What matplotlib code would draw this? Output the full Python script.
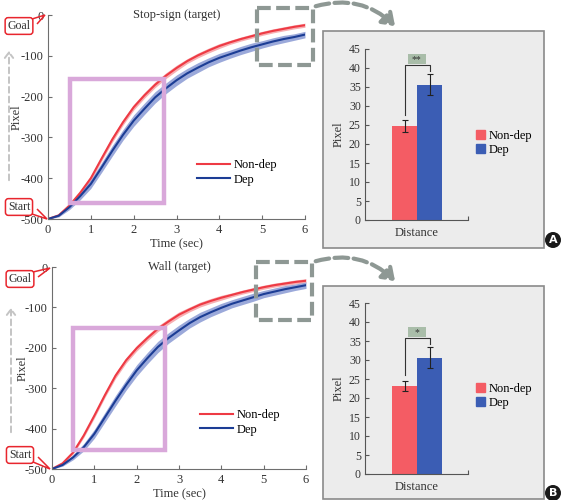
import numpy as np
import matplotlib
matplotlib.use('Agg')
import matplotlib.pyplot as plt
from matplotlib.patches import Rectangle, FancyArrowPatch, Circle, Patch, Polygon
from matplotlib.transforms import Affine2D

plt.rcParams['font.family'] = ['Liberation Serif', 'DejaVu Serif']
plt.rcParams['axes.unicode_minus'] = False

# Valores (cada 0.25 s)
time_sec = [0, 0.25, 0.5, 0.75, 1, 1.25, 1.5, 1.75, 2, 2.25, 2.5, 2.75, 3,
            3.25, 3.5, 3.75, 4, 4.25, 4.5, 4.75, 5, 5.25, 5.5, 5.75, 6]
stop_nondep = [-500, -491, -467, -436, -400, -352, -305, -263, -226, -197, -171, -149, -130,
               -113, -99, -87, -76, -67, -59, -52, -45, -39, -34, -29, -25]
stop_dep = [-500, -492, -471, -444, -414, -374, -333, -294, -259, -230, -202, -180, -160,
            -143, -129, -116, -105, -96, -87, -79, -72, -65, -59, -54, -48]
wall_nondep = [-500, -486, -459, -417, -368, -317, -269, -231, -201, -176, -153, -135, -118,
               -105, -93, -84, -76, -69, -62, -56, -50, -45, -41, -37, -34]
wall_dep = [-500, -490, -471, -446, -413, -372, -331, -292, -256, -226, -198, -176, -157,
            -139, -124, -112, -101, -91, -83, -75, -67, -61, -55, -50, -45]
sem_nondep = [0, 2, 4, 5, 6, 6, 7, 7, 7, 7, 7, 7, 7, 6, 6, 6, 6, 5, 5, 5, 5, 5, 5, 5, 5]
sem_dep = [0, 3, 6, 9, 11, 12, 13, 13, 14, 14, 14, 13, 13, 12, 12, 11, 11, 10, 10, 10, 9, 9, 9, 8, 8]

groups = ['Non-dep', 'Dep']
stop_distance = [24.7, 35.6]
stop_distance_err = [1.5, 2.7]
wall_distance = [23.2, 30.6]
wall_distance_err = [1.35, 2.7]

W, H = 568, 500
fig = plt.figure(figsize=(W / 100, H / 100), dpi=100)
# coordenadas en pixeles (origen arriba a la izquierda)
px = Affine2D().scale(1 / W, -1 / H).translate(0, 1) + fig.transFigure

RED, RED_BAND = '#ee3a44', '#f7a6aa'
BLUE, BLUE_BAND = '#1c3d95', '#8a9ad4'
BAR_RED, BAR_BLUE = '#f45c64', '#3b5db4'
GRAY_DASH = '#8e9894'
PINK = '#d9a8da'


def add_axes_px(x0, y0, x1, y1):
    return fig.add_axes([x0 / W, 1 - y1 / H, (x1 - x0) / W, (y1 - y0) / H])


def curve_panel(rect, title, nondep, dep, zoom_box, focus_box, legend_xy, ylabel_x):
    ax = add_axes_px(*rect)
    ax.patch.set_alpha(0)
    t = np.array(time_sec)
    nd, d = np.array(nondep), np.array(dep)
    snd, sd = np.array(sem_nondep), np.array(sem_dep)
    ax.fill_between(t, nd - snd, nd + snd, color=RED_BAND, lw=0, alpha=0.9)
    ax.plot(t, nd, color=RED, lw=1.5, label='Non-dep')
    ax.fill_between(t, d - sd, d + sd, color=BLUE_BAND, lw=0, alpha=0.85)
    ax.plot(t, d, color=BLUE, lw=1.5, label='Dep')
    ax.set_xlim(0, 6)
    ax.set_ylim(-500, 0)
    ax.set_xticks(range(7))
    ax.set_yticks([0, -100, -200, -300, -400, -500])
    for s in ['top', 'right']:
        ax.spines[s].set_visible(False)
    for s in ['left', 'bottom']:
        ax.spines[s].set_color('#6e6e6e')
    ax.tick_params(direction='in', length=3, colors='#6e6e6e', labelcolor='#333333', labelsize=9)
    ax.tick_params(axis='y', pad=3)
    ax.set_ylabel('Pixel', fontsize=9, color='#333333')
    ax.yaxis.set_label_coords(ylabel_x, 0.5)
    ax.set_xlabel('Time (sec)', fontsize=9, color='#333333')
    ax.xaxis.set_label_coords(0.5, -0.095)
    ax.text(3, 0, title, ha='center', va='center', fontsize=9, color='#333333')
    # cuadro rosa
    fx0, fy0, fx1, fy1 = focus_box
    ax.add_patch(Rectangle((fx0, fy0), fx1 - fx0, fy1 - fy0, fill=False, ec=PINK, lw=3.2, zorder=5))
    # cuadro punteado gris
    zx0, zy0, zx1, zy1 = zoom_box
    ax.add_patch(Rectangle((zx0, zy0), zx1 - zx0, zy1 - zy0, fill=False, ec=GRAY_DASH, lw=3,
                           ls=(0, (3.3, 1.3)), clip_on=False, zorder=6))
    ax.legend(loc='upper left', bbox_to_anchor=legend_xy, bbox_transform=px, frameon=False,
              fontsize=9, handlelength=2.6, handletextpad=0.3, labelspacing=0.2,
              borderpad=0, borderaxespad=0)
    return ax


def callout(text, center, tip, up):
    cx, cy = center
    fig.text(cx / W, 1 - cy / H, text, ha='center', va='center', fontsize=8.5, color='#333333',
             bbox=dict(boxstyle='round,pad=0.2,rounding_size=0.25', fc='white', ec='#e8262e', lw=1.1),
             zorder=10)
    sgn = -1 if up else 1
    tail = Polygon([(cx + 13, cy + sgn * 7), tip, (cx + 18, cy + sgn * 2)], closed=False,
                   transform=px, fill=False, ec='#e8262e', lw=1.1, zorder=11)
    fig.add_artist(tail)


def bar_panel(box_rect, ax_rect, values, errors, star, legend_xy, badge_xy, badge):
    bx0, by0, bx1, by1 = box_rect
    fig.add_artist(Rectangle((bx0, by0), bx1 - bx0, by1 - by0, transform=px, fc='#ececec',
                             ec='#8a8a8a', lw=1.2, zorder=-1))
    ax = add_axes_px(*ax_rect)
    ax.patch.set_alpha(0)
    x = [0, 1]
    ax.bar(x, values, width=1, color=[BAR_RED, BAR_BLUE], label=groups)
    ax.errorbar(x, values, yerr=errors, fmt='none', ecolor='#222222', elinewidth=0.8, capsize=2.5, capthick=0.8)
    ax.set_xlim(-1.58, 2.54)
    ax.set_ylim(0, 45)
    ax.set_yticks(range(0, 46, 5))
    ax.set_xticks([2.54])
    ax.set_xticklabels([''])
    for s in ['top', 'right']:
        ax.spines[s].set_visible(False)
    for s in ['left', 'bottom']:
        ax.spines[s].set_color('#555555')
    ax.tick_params(direction='in', length=3, colors='#555555', labelcolor='#333333', labelsize=8.5, pad=3)
    ax.set_ylabel('Pixel', fontsize=9, color='#333333')
    ax.yaxis.set_label_coords(-0.2, 0.5)
    ax.set_xlabel('Distance', fontsize=9, color='#333333')
    ax.xaxis.set_label_coords(0.5, -0.04)
    # corchete de significancia
    top_red = values[0] + errors[0]
    top_blue = values[1] + errors[1]
    top = top_blue + 2.4
    ax.plot([0, 0, 1, 1], [top_red + 1.4, top, top, top_blue + 0.8], color='#333333', lw=0.8)
    ax.add_patch(Rectangle((0.13, top + 0.3), 0.72, 2.7, fc='#a9bda9', ec='none', clip_on=False))
    ax.text(0.49, top + 1.5, star, ha='center', va='center', fontsize=7, color='#333333')
    handles = [Patch(color=BAR_RED), Patch(color=BAR_BLUE)]
    ax.legend(handles, groups, loc='upper left', bbox_to_anchor=legend_xy, bbox_transform=px,
              frameon=False, fontsize=9, handlelength=0.75, handleheight=0.75, handletextpad=0.3,
              labelspacing=0.15, borderpad=0, borderaxespad=0)
    fig.add_artist(Circle(badge_xy, 8, transform=px, fc='#1a1a1a', ec='none', zorder=10))
    fig.text(badge_xy[0] / W, 1 - badge_xy[1] / H, badge, ha='center', va='center', color='white',
             fontsize=8, fontweight='bold', family='DejaVu Sans', zorder=11)
    return ax


def zoom_arrow(start, end):
    fig.add_artist(FancyArrowPatch(start, end, transform=px, connectionstyle='arc3,rad=-0.3',
                                   arrowstyle='-|>,head_length=7,head_width=5', color=GRAY_DASH,
                                   lw=3, ls=(0, (3.3, 1.3)), zorder=8))


# Panel A
curve_panel((48, 15, 305, 219), 'Stop-sign (target)', stop_nondep, stop_dep,
            zoom_box=(4.88, 17, 6.19, -123), focus_box=(0.51, -157, 2.71, -461),
            legend_xy=(197, 159), ylabel_x=-0.1)
bar_panel((323, 31, 544, 248), (365, 49, 468, 220), stop_distance, stop_distance_err, '**',
          legend_xy=(476, 130), badge_xy=(553, 240), badge='A')
zoom_arrow((313, 7), (397, 28))
callout('Goal', (19, 26), (45, 15), up=True)
callout('Start', (19, 207), (47, 219), up=False)
fig.add_artist(FancyArrowPatch((9, 183), (9, 48), transform=px, arrowstyle='->,head_length=4,head_width=3',
                               color='#c4c4c4', lw=1.4, ls=(0, (3, 2))))

# Panel B
curve_panel((52, 267, 306, 469), 'Wall (target)', wall_nondep, wall_dep,
            zoom_box=(4.82, 13, 6.15, -131), focus_box=(0.50, -151, 2.67, -453),
            legend_xy=(200, 409), ylabel_x=-0.093)
bar_panel((323, 286, 544, 499), (365, 303, 468, 474), wall_distance, wall_distance_err, '*',
          legend_xy=(476, 383), badge_xy=(553, 493), badge='B')
zoom_arrow((313, 262), (397, 283))
callout('Goal', (20, 279), (50, 268), up=True)
callout('Start', (20, 455), (50, 469), up=False)
fig.add_artist(FancyArrowPatch((11, 435), (11, 305), transform=px, arrowstyle='->,head_length=4,head_width=3',
                               color='#c4c4c4', lw=1.4, ls=(0, (3, 2))))

fig.savefig('out.png', dpi=100)
